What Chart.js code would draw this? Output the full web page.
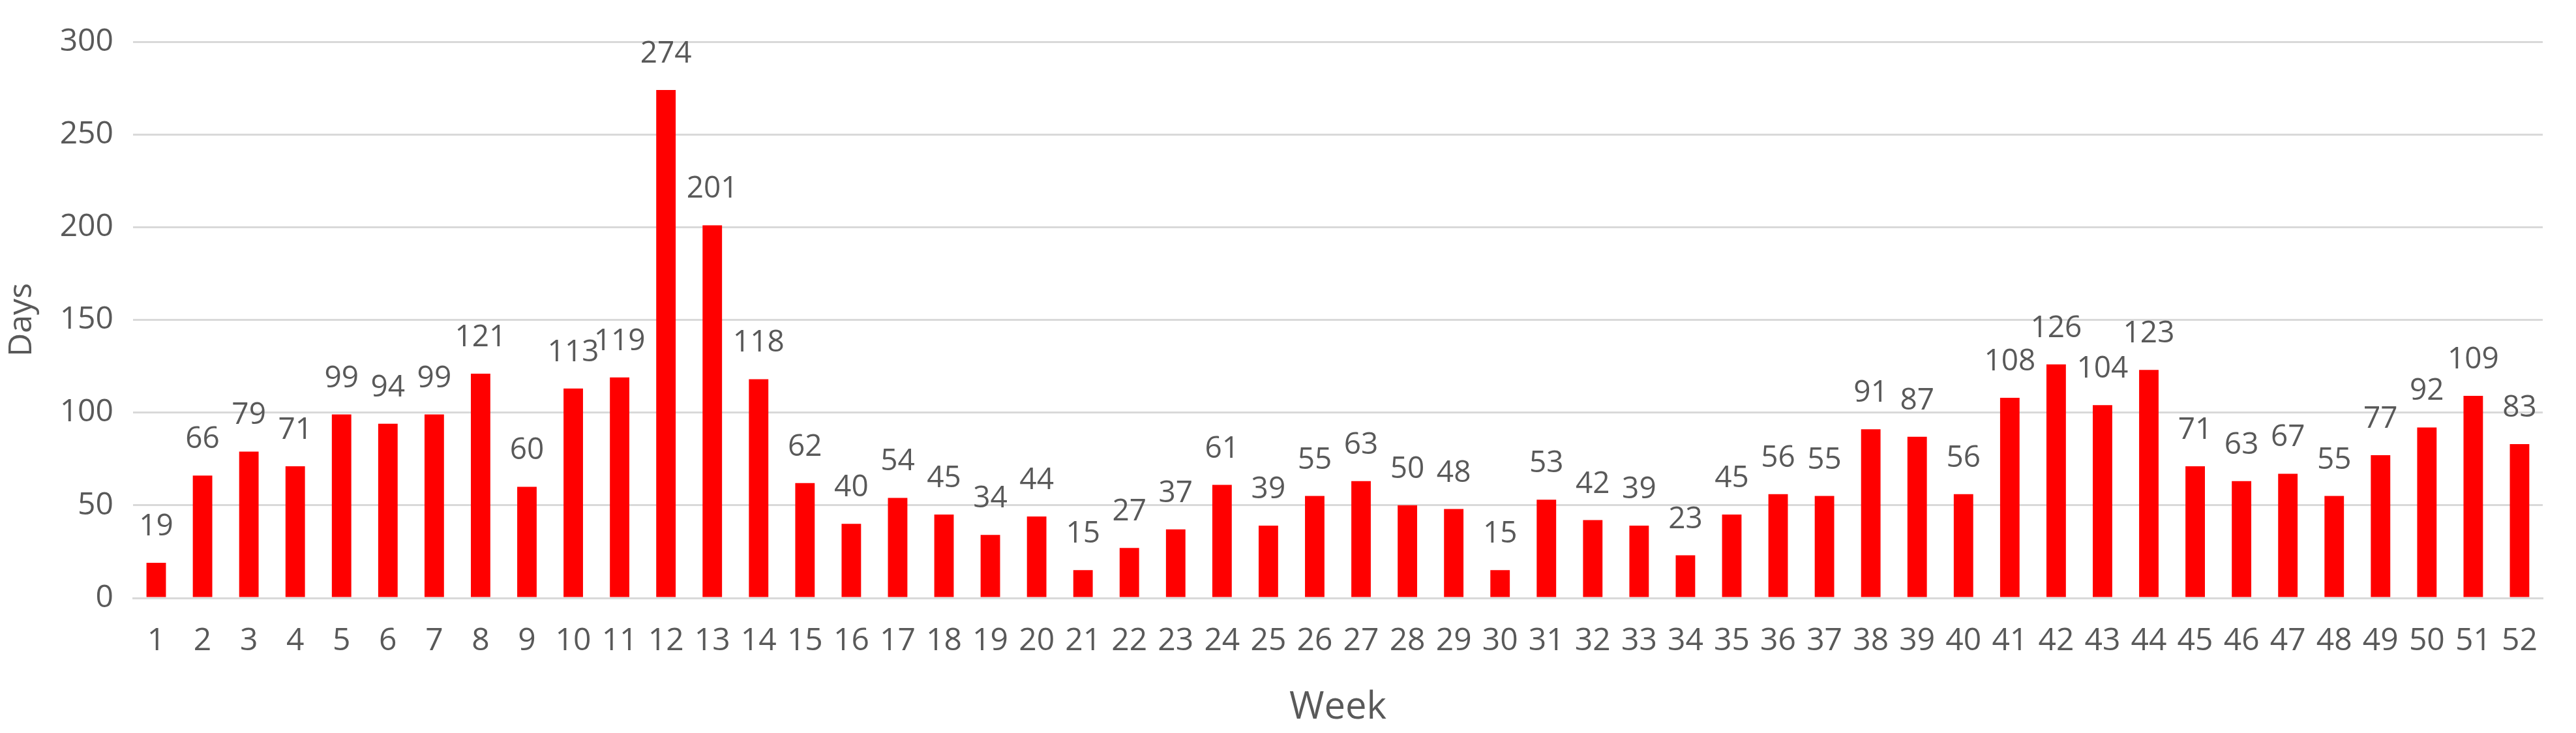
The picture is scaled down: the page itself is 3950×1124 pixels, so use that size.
<!DOCTYPE html>
<html>
<head>
<meta charset="utf-8">
<script src="https://cdn.jsdelivr.net/npm/chart.js@4/dist/chart.umd.min.js"></script>
<style>
  html, body { margin: 0; padding: 0; background: #fff; }
  #wrap { width: 3950px; height: 1124px; }
</style>
</head>
<body>
<div id="wrap"><canvas id="weekChart" width="3950" height="1124"></canvas></div>
<script>
const weeks = Array.from({ length: 52 }, (_, i) => String(i + 1));

const days = [
  19, 66, 79, 71, 99, 94, 99, 121, 60, 113,
  119, 274, 201, 118, 62, 40, 54, 45, 34, 44,
  15, 27, 37, 61, 39, 55, 63, 50, 48, 15,
  53, 42, 39, 23, 45, 56, 55, 91, 87, 56,
  108, 126, 104, 123, 71, 63, 67, 55, 77, 92,
  109, 83
];

const yTicks = [0, 50, 100, 150, 200, 250, 300];

const textColor = "#595959";
const fontFamily = "'Open Sans', 'Noto Sans', sans-serif";

/* value labels above bars */
const barLabels = {
  id: "barLabels",
  afterDatasetsDraw(chart) {
    const ctx = chart.ctx;
    const meta = chart.getDatasetMeta(0);
    ctx.save();
    ctx.fillStyle = textColor;
    ctx.font = "46px " + fontFamily;
    ctx.textAlign = "center";
    ctx.textBaseline = "alphabetic";
    meta.data.forEach((bar, i) => {
      ctx.fillText(days[i], bar.x, bar.y - 42);
    });
    ctx.restore();
  }
};

new Chart(document.getElementById("weekChart"), {
  type: "bar",
  data: {
    labels: weeks,
    datasets: [{
      label: "Days",
      data: days,
      backgroundColor: "#ff0000",
      borderWidth: 0,
      barPercentage: 0.42,
      categoryPercentage: 1
    }]
  },
  options: {
    responsive: false,
    animation: false,
    layout: {
      padding: { top: 64, right: 51, left: 0, bottom: 0 }
    },
    scales: {
      x: {
        grid: { display: false },
        border: { color: "#d9d9d9", width: 3 },
        ticks: {
          color: textColor,
          font: { size: 48, family: fontFamily },
          maxRotation: 0,
          autoSkip: false,
          padding: 30
        },
        title: {
          display: true,
          text: "Week",
          color: textColor,
          font: { size: 58, family: fontFamily },
          padding: { top: 18 }
        },
        afterFit(scale) { scale.height = 1124 - 917; }
      },
      y: {
        min: 0,
        max: 300,
        afterBuildTicks(scale) {
          scale.ticks = yTicks.map(v => ({ value: v }));
        },
        grid: { color: "#d9d9d9", lineWidth: 3, drawTicks: false },
        border: { display: false },
        ticks: {
          color: textColor,
          font: { size: 48, family: fontFamily },
          padding: 30
        },
        title: {
          display: true,
          text: "Days",
          color: textColor,
          font: { size: 50, family: fontFamily },
          padding: { bottom: 20 }
        },
        afterFit(scale) { scale.width = 204; }
      }
    },
    plugins: {
      legend: { display: false },
      tooltip: { enabled: false }
    }
  },
  plugins: [barLabels]
});
</script>
</body>
</html>
